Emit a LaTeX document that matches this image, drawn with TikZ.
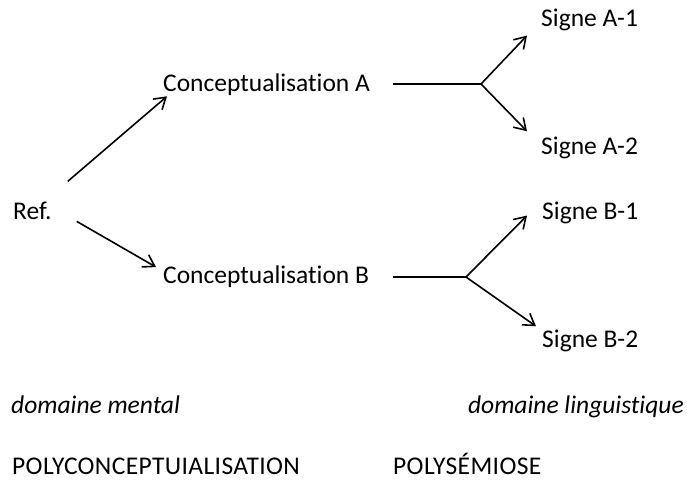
\documentclass[tikz,border=0pt]{standalone}
\usepackage{fontspec}
\setmainfont[Ligatures={NoCommon}]{Carlito}
\usetikzlibrary{arrows.meta,calc}

\tikzset{
  lbl/.style={inner sep=0pt, anchor=base west, font=\fontsize{25.5}{30}\selectfont},
  lblr/.style={lbl, anchor=base east},
  link/.style={line width=1.6pt, black},
  arr/.style={link, -{Straight Barb[length=11pt, width=14pt, line width=1.6pt]}},
}

\begin{document}
\begin{tikzpicture}[x=1pt, y=-1pt]
  \useasboundingbox (0,0) rectangle (687,481);

  % reference and its two conceptualisations
  \node[lbl] (ref) at (13,219) {Ref.};
  \node[lbl] (ca)  at (163,92) {Conceptualisation A};
  \node[lbl] (cb)  at (163,283) {Conceptualisation B};

  % signs
  \node[lbl] (sa1) at (541,27)  {Signe A-1};
  \node[lbl] (sa2) at (541,155) {Signe A-2};
  \node[lbl] (sb1) at (542,219) {Signe B-1};
  \node[lbl] (sb2) at (542,347) {Signe B-2};

  % domain captions
  \node[lbl]  (dm) at (11,413)  {\itshape domaine mental};
  \node[lblr] (dl) at (684,413) {\itshape domaine linguistique};
  \node[lbl]  (pc) at (12,474)  {\addfontfeature{LetterSpace=1.5}POLYCONCEPTUIALISATION};
  \node[lbl]  (ps) at (393,474) {\addfontfeature{LetterSpace=1.5}POLYSÉMIOSE};

  % branching points
  \coordinate (caout) at (393,84);
  \coordinate (ja)    at (481,84);
  \coordinate (cbout) at (393,277);
  \coordinate (jb)    at (466,277);

  % reference -> conceptualisations
  \draw[arr] ($(ref.north east)+(16,-20)$) -- ($(ca.south west)+(4,0)$);
  \draw[arr] ($(ref.south east)+(25,2)$)   -- ($(cb.north west)+(-7,2)$);

  % conceptualisation A -> signs A
  \draw[link] (caout) -- (ja);
  \draw[arr] (ja) -- ($(sa1.south west)+(-14,4)$);
  \draw[arr] (ja) -- ($(sa2.north west)+(-14,-6)$);

  % conceptualisation B -> signs B
  \draw[link] (cbout) -- (jb);
  \draw[arr] (jb) -- ($(sb1.south west)+(-15,-8)$);
  \draw[arr] (jb) -- ($(sb2.north west)+(-6,-3)$);
\end{tikzpicture}
\end{document}
